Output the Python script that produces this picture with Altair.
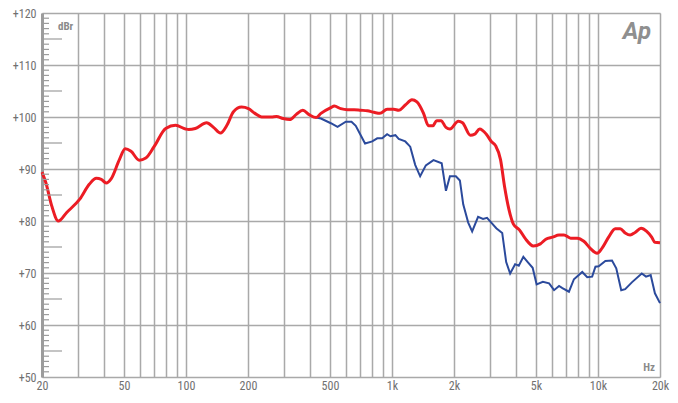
import altair as alt
import pandas as pd

# ---- data ----
red_freq = [20, 20.9, 22.3, 24.0, 26.3, 30.5, 34.0, 36.7, 38.8, 41.0, 43.3, 47.5, 50.7, 54.1, 59.3, 63.8,
            70, 79.7, 89, 99.5, 103, 111, 126, 136, 147, 158, 170, 186, 201, 216, 233, 260, 275, 296,
            319, 343, 369, 398, 428, 452, 505, 525, 564, 608, 655, 705, 759, 818, 874, 947, 1020, 1078,
            1160, 1250, 1321, 1423, 1504, 1578, 1649, 1730, 1828, 1911, 2098, 2200, 2404, 2521, 2665,
            2870, 3034, 3182, 3364, 3517, 3693, 3885, 4154, 4440, 4850, 5250, 5582, 6016, 6472, 6838,
            7366, 7936, 8538, 9196, 9902, 10468, 11262, 12132, 12824, 13552, 14326, 15146, 16186,
            17240, 18222, 18898, 20000]
red_db = [89.4, 87.3, 82.9, 80.0, 81.6, 84.2, 87.1, 88.2, 88.0, 87.3, 88.1, 91.8, 93.9, 93.4, 91.7, 92.1,
          94.3, 97.8, 98.4, 97.7, 97.6, 97.8, 98.9, 98.0, 96.9, 98.4, 101.0, 101.9, 101.6, 100.7, 100.0,
          100.0, 100.1, 99.7, 99.5, 100.5, 101.3, 100.4, 99.9, 100.7, 101.8, 102.1, 101.6, 101.4, 101.4,
          101.3, 101.2, 100.9, 100.7, 101.5, 101.5, 101.3, 102.3, 103.3, 102.9, 100.7, 98.3, 98.3, 99.3,
          99.3, 98.0, 97.7, 99.2, 98.9, 96.5, 96.7, 97.7, 96.7, 95.3, 94.5, 91.8, 86.7, 82.3, 79.4, 78.3,
          76.6, 75.2, 75.6, 76.5, 76.9, 77.3, 77.3, 76.7, 76.7, 76.1, 74.7, 73.8, 74.8, 76.9, 78.5, 78.5,
          77.7, 77.3, 77.8, 78.6, 78.0, 76.9, 75.9, 75.8]

blue_freq = [428, 452, 505, 544, 597, 636, 667, 705, 740, 802, 848, 896, 947, 983, 1039, 1078, 1160,
             1226, 1296, 1370, 1460, 1590, 1743, 1828, 1911, 2042, 2136, 2217, 2344, 2450, 2618, 2767,
             2893, 3034, 3208, 3428, 3584, 3746, 3960, 4126, 4342, 4560, 4818, 5036, 5400, 5790, 6122,
             6472, 6718, 7228, 7642, 8388, 8866, 9370, 9720, 10080, 10858, 11696, 12266, 12966, 13552,
             14600, 16310, 17106, 18022, 18898, 20000]
blue_db = [99.9, 99.7, 98.8, 98.1, 99.1, 99.1, 98.3, 96.5, 94.9, 95.3, 95.9, 95.9, 96.7, 96.3, 96.5,
           95.8, 95.3, 94.3, 90.8, 88.6, 90.7, 91.7, 91.1, 85.8, 88.6, 88.6, 87.8, 83.2, 79.7, 78.0, 80.8,
           80.4, 80.6, 79.7, 78.6, 77.7, 72.1, 69.9, 71.7, 71.4, 73.1, 72.1, 71.0, 67.8, 68.3, 68.0, 66.7,
           67.5, 67.1, 66.4, 68.8, 70.2, 69.2, 69.3, 71.2, 71.3, 72.3, 72.4, 70.9, 66.7, 66.9, 68.2, 69.9,
           69.3, 69.6, 66.1, 64.2]

x_grid = [20, 30, 40, 50, 60, 70, 80, 90, 100, 200, 300, 400, 500, 600, 700, 800, 900,
          1000, 2000, 3000, 4000, 5000, 6000, 7000, 8000, 9000, 10000, 20000]
x_labels = [20, 50, 100, 200, 500, 1000, 2000, 5000, 10000, 20000]
y_grid = [50, 60, 70, 80, 90, 100, 110, 120]
minor_ticks = [v for v in range(50, 121) if v % 5 != 0]
mid_ticks = [55, 65, 75, 85, 95, 105, 115]

red_df = pd.DataFrame({"f": red_freq, "db": red_db})
blue_df = pd.DataFrame({"f": blue_freq, "db": blue_db})
minor_df = pd.DataFrame({"db": minor_ticks})
mid_df = pd.DataFrame({"db": mid_ticks})

FONT = "Liberation Sans Narrow, Roboto Condensed, Roboto, sans-serif"
GRID = "#a9a9a9"
FRAME = "#9c9c9c"
TXT = "#707070"

lab_list = "[" + ",".join(str(v) for v in x_labels) + "]"
x_enc = alt.X(
    "f:Q",
    scale=alt.Scale(type="log", domain=[20, 20000], nice=False, zero=False),
    axis=alt.Axis(
        values=x_grid, title=None, grid=True, gridColor=GRID, gridWidth=1.5,
        domain=False, ticks=False, labelOverlap=False, labelFlush=False,
        labelExpr=f"indexof({lab_list}, datum.value) >= 0 ? (datum.value >= 1000 ? (datum.value/1000) + 'k' : '' + datum.value) : ''",
        labelFont=FONT, labelFontSize=12, labelColor=TXT, labelPadding=3,
    ),
)
y_enc = alt.Y(
    "db:Q",
    scale=alt.Scale(domain=[50, 120], nice=False, zero=False),
    axis=alt.Axis(
        values=y_grid, title=None, grid=True, gridColor=GRID, gridWidth=1.5,
        domain=True, domainColor=FRAME, domainWidth=3, ticks=False,
        labelExpr="'+' + datum.value", labelFont=FONT, labelFontSize=12,
        labelColor=TXT, labelPadding=6,
    ),
)

blue = alt.Chart(blue_df).mark_line(color="#2b4a9c", strokeWidth=2).encode(x=x_enc, y=y_enc)
red = alt.Chart(red_df).mark_line(color="#ec1c24", strokeWidth=3, interpolate="monotone").encode(
    x="f:Q", y="db:Q")

minor = alt.Chart(minor_df).mark_rule(color=FRAME, strokeWidth=1.2).encode(
    y="db:Q", x=alt.value(0), x2=alt.value(7))
mid = alt.Chart(mid_df).mark_rule(color=FRAME, strokeWidth=1.2).encode(
    y="db:Q", x=alt.value(0), x2=alt.value(20))

dbr = alt.Chart(pd.DataFrame({"t": ["dBr"]})).mark_text(
    font=FONT, fontSize=11, fontWeight="bold", color="#8a8a8a", align="left", baseline="middle"
).encode(x=alt.value(16), y=alt.value(14), text="t:N")
hz = alt.Chart(pd.DataFrame({"t": ["Hz"]})).mark_text(
    font=FONT, fontSize=11, fontWeight="bold", color="#8a8a8a", align="right", baseline="middle"
).encode(x=alt.value(613), y=alt.value(355), text="t:N")
ap = alt.Chart(pd.DataFrame({"t": ["Ap"]})).mark_text(
    font="Roboto, sans-serif", fontSize=24, fontWeight="bold", fontStyle="italic",
    color="#8f8f8f", align="right", baseline="middle"
).encode(x=alt.value(609), y=alt.value(19), text="t:N")

chart = alt.layer(blue, red, minor, mid, dbr, hz, ap).properties(
    width=618, height=364,
    autosize=alt.AutoSizeParams(type="none"),
    padding={"left": 34, "top": 5, "right": 10, "bottom": 18},
).configure_view(stroke=FRAME, strokeWidth=2.5).configure(background="white")

chart.save("out.html", embed_options={"renderer": "svg", "actions": False})
